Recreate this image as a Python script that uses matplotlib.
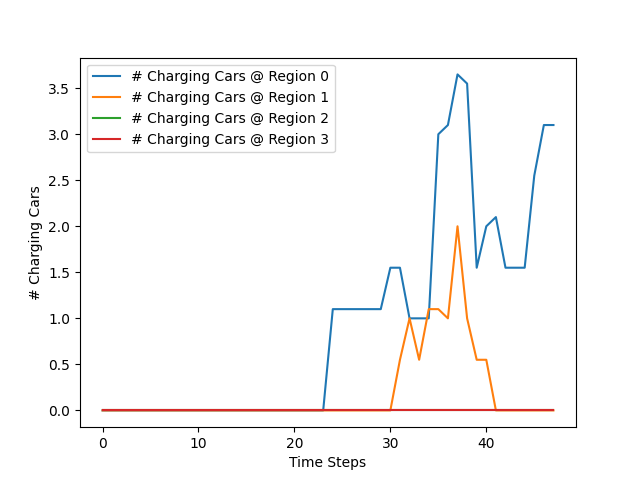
import matplotlib
matplotlib.use("Agg")
import matplotlib.pyplot as plt
import numpy as np

steps = list(range(48))
region0 = [0]*24 + [1.1]*6 + [1.55, 1.55, 1.0, 1.0, 1.0, 3.0, 3.1, 3.65, 3.55, 1.55, 2.0, 2.1, 1.55, 1.55, 1.55, 2.55, 3.1, 3.1]
region1 = [0]*31 + [0.55, 1.0, 0.55, 1.1, 1.1, 1.0, 2.0, 1.0, 0.55, 0.55] + [0]*7
region2 = [0]*48
region3 = [0]*48

fig, ax = plt.subplots(figsize=(6.4, 4.8), dpi=100)
for i, s in enumerate([region0, region1, region2, region3]):
    ax.plot(steps, s, label=f"# Charging Cars @ Region {i}")
ax.set_xlabel("Time Steps")
ax.set_ylabel("# Charging Cars")
ax.legend(loc="upper left")
fig.savefig("out.png")
